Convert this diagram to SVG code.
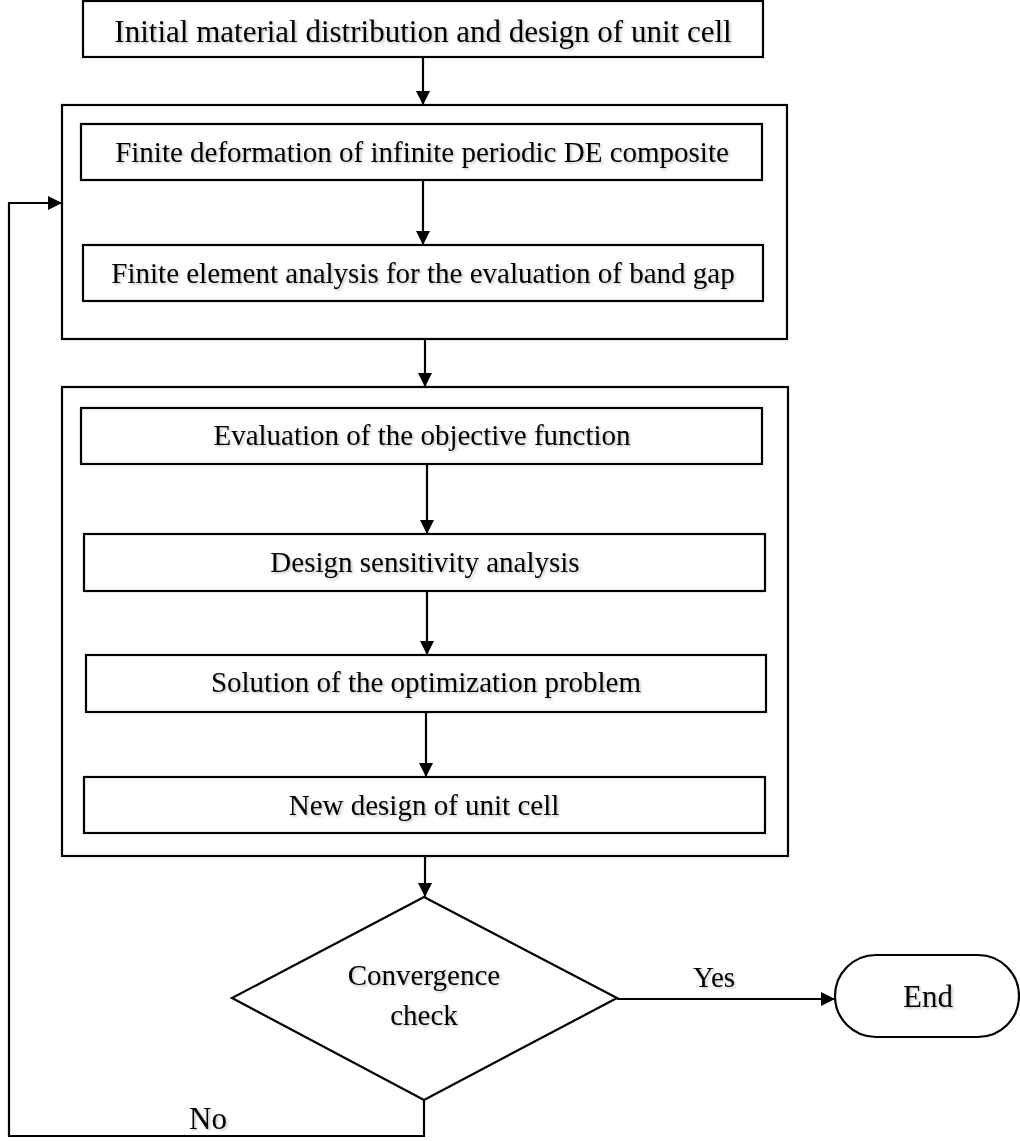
<svg xmlns="http://www.w3.org/2000/svg" width="1020" height="1141" viewBox="0 0 1020 1141">
<style>
.box{fill:#fff;stroke:#000;stroke-width:2.2}
.frame{fill:none;stroke:#000;stroke-width:2.2}
.t{font-family:"Liberation Serif","Times New Roman",serif;font-size:29px;fill:#000;text-anchor:middle;filter:url(#sh)}
.big{font-size:31px}
.c{fill:none;stroke:#000;stroke-width:2.2}
</style>
<defs>
<filter id="sh" x="-5%" y="-20%" width="110%" height="150%">
<feDropShadow dx="1.5" dy="1.5" stdDeviation="1" flood-color="#000" flood-opacity="0.25"/>
</filter>
<marker id="ah" markerUnits="userSpaceOnUse" markerWidth="15" markerHeight="15" refX="14" refY="7" orient="auto">
<path d="M0,0 L14,7 L0,14 z" fill="#000"/>
</marker>
</defs>
<g id="outer1"><rect class="frame" x="62" y="105" width="725" height="234"/></g>
<g id="outer2"><rect class="frame" x="62" y="387" width="726" height="469"/></g>
<g id="n-init"><rect class="box" x="83" y="1" width="680" height="56"/><text class="t big" x="423" y="42">Initial material distribution and design of unit cell</text></g>
<g id="n-deform"><rect class="box" x="81" y="124" width="681" height="56"/><text class="t" x="422" y="162">Finite deformation of infinite periodic DE composite</text></g>
<g id="n-fea"><rect class="box" x="83" y="245" width="680" height="56"/><text class="t" x="423" y="283">Finite element analysis for the evaluation of band gap</text></g>
<g id="n-eval"><rect class="box" x="81" y="408" width="681" height="56"/><text class="t" x="422" y="445">Evaluation of the objective function</text></g>
<g id="n-sens"><rect class="box" x="84" y="534" width="681" height="57"/><text class="t" x="425" y="572">Design sensitivity analysis</text></g>
<g id="n-opt"><rect class="box" x="86" y="655" width="680" height="57"/><text class="t" x="426" y="692">Solution of the optimization problem</text></g>
<g id="n-new"><rect class="box" x="84" y="777" width="681" height="56"/><text class="t" x="424" y="815">New design of unit cell</text></g>
<g id="n-conv"><polygon class="box" points="424,897 617,998 424,1100 232,998"/><text class="t" x="424" y="985">Convergence</text><text class="t" x="424" y="1025">check</text></g>
<g id="n-end"><rect class="box" x="835" y="955" width="184" height="82" rx="41" ry="41"/><text class="t big" x="928" y="1007">End</text></g>
<g id="connectors">
<line class="c" x1="423" y1="57" x2="423" y2="105" marker-end="url(#ah)"/>
<line class="c" x1="423" y1="180" x2="423" y2="245" marker-end="url(#ah)"/>
<line class="c" x1="425" y1="339" x2="425" y2="387" marker-end="url(#ah)"/>
<line class="c" x1="427" y1="464" x2="427" y2="534" marker-end="url(#ah)"/>
<line class="c" x1="427" y1="591" x2="427" y2="655" marker-end="url(#ah)"/>
<line class="c" x1="426" y1="712" x2="426" y2="777" marker-end="url(#ah)"/>
<line class="c" x1="425" y1="856" x2="425" y2="897" marker-end="url(#ah)"/>
<line class="c" x1="617" y1="999" x2="835" y2="999" marker-end="url(#ah)"/>
<polyline class="c" points="424,1100 424,1136 9,1136 9,203 62,203" marker-end="url(#ah)"/>
<text class="t" x="714" y="987">Yes</text>
<text class="t big" x="208" y="1129">No</text>
</g>
</svg>
